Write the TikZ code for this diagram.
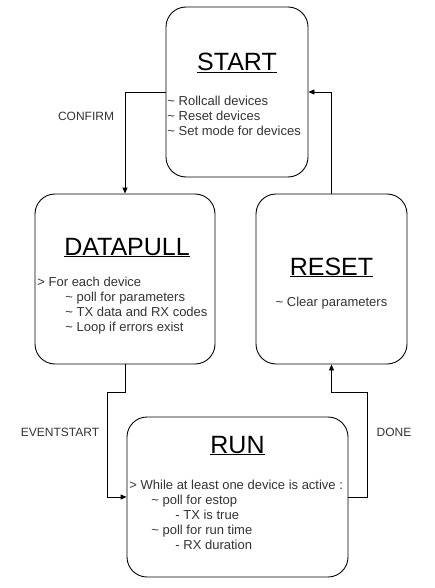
\documentclass[tikz,border=0pt]{standalone}
\usepackage{fontspec}
\setmainfont{Liberation Sans}
\usetikzlibrary{arrows.meta}
\newcommand{\tl}{\textasciitilde{} }
\begin{document}
\begin{tikzpicture}[x=1pt,y=-1pt,line width=0.9pt,
  state/.style={draw,rounded corners=20pt,inner sep=0pt},
  title/.style={anchor=base,font=\fontsize{25}{30}\selectfont},
  body/.style={inner sep=0pt,align=left,font=\fontsize{13}{15}\selectfont,text=black!80},
  lbl/.style={font=\fontsize{12}{14}\selectfont,text=black!80},
  arr/.style={-{Triangle[length=6pt,width=5pt]}}]
\useasboundingbox (0,0) rectangle (434,588);
% states
\node[state,minimum width=142pt,minimum height=170pt] (start) at (237,92) {};
\node[state,minimum width=180pt,minimum height=170pt] (datapull) at (125,279) {};
\node[state,minimum width=151pt,minimum height=170pt] (reset) at (331.5,279) {};
\node[state,minimum width=221pt,minimum height=160pt] (run) at (237.5,497) {};
% titles
\node[title] (starttitle) at (237,71) {\underline{START}};
\node[title] (datapulltitle) at (127,255) {\underline{DATAPULL}};
\node[title] (resettitle) at (331.5,275) {\underline{RESET}};
\node[title] (runtitle) at (237.5,453) {\underline{RUN}};
% texts
\node[body,anchor=north west] (starttext) at (167,96) {\tl Rollcall devices\\\tl Reset devices\\\tl Set mode for devices};
\node[body,anchor=north west] (datapulltext) at (37,277) {> For each device\\\hspace*{28pt}\tl poll for parameters\\\hspace*{28pt}\tl TX data and RX codes\\\hspace*{28pt}\tl Loop if errors exist};
\node[body,anchor=north] (resettext) at (331.5,297) {\tl Clear parameters};
\node[body,anchor=north west] (runtext) at (129,480) {> While at least one device is active :\\\hspace*{22pt}\tl poll for estop\\\hspace*{46pt}- TX is true\\\hspace*{22pt}\tl poll for run time\\\hspace*{46pt}- RX duration};
% transitions
\coordinate (evbend) at (107,392);
\coordinate (donebend) at (367,392);
\draw[arr] (start.west) -| (datapull.north);
\draw[arr] (datapull.south) |- (evbend) |- (run.west);
\draw[arr] (run.east) -| (donebend) -| (reset.south);
\draw[arr] (reset.north) |- (start.east);
\node[lbl] (confirm) at (86,116) {CONFIRM};
\node[lbl] (eventstart) at (60,432) {EVENTSTART};
\node[lbl] (done) at (394,432) {DONE};
\end{tikzpicture}
\end{document}
